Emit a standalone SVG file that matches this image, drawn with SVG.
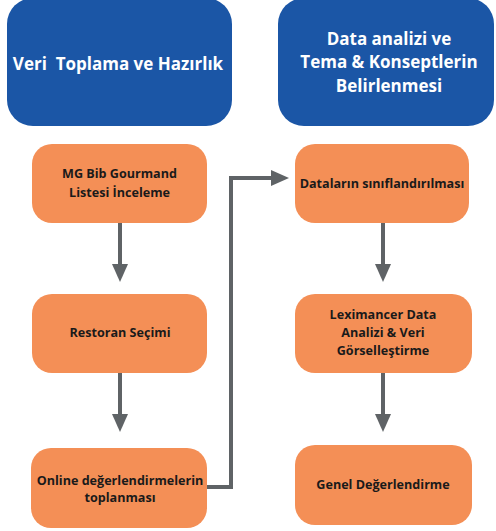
<svg xmlns="http://www.w3.org/2000/svg" width="496" height="531" viewBox="0 0 496 531">
  <style>
    .head { fill: #1b56a6; }
    .step { fill: #f48f56; }
    .htxt { font-family: "Open Sans", "Liberation Sans", sans-serif; font-weight: 700; font-size: 17px; fill: #ffffff; text-anchor: middle; }
    .stxt { font-family: "Open Sans", "Liberation Sans", sans-serif; font-weight: 700; font-size: 12.6px; fill: #1a1a1a; text-anchor: middle; }
    .conn { fill: none; stroke: #5f6366; stroke-width: 4; }
  </style>
  <defs>
    <marker id="arrow" viewBox="0 0 18 16" refX="1" refY="8" markerWidth="18" markerHeight="16" markerUnits="userSpaceOnUse" orient="auto">
      <path d="M0,0 L18,8 L0,16 z" fill="#5f6366"/>
    </marker>
  </defs>
  <rect width="496" height="531" fill="#ffffff"/>

  <g id="phase-collect">
    <rect class="head" x="7" y="-2" width="225" height="128" rx="26"/>
    <text class="htxt" x="118" y="70" xml:space="preserve">Veri  Toplama ve Hazırlık</text>
  </g>
  <g id="phase-analyze">
    <rect class="head" x="278" y="-2" width="216" height="128" rx="26"/>
    <text class="htxt" x="389" y="45">Data analizi ve</text>
    <text class="htxt" x="389" y="68">Tema &amp; Konseptlerin</text>
    <text class="htxt" x="389" y="92">Belirlenmesi</text>
  </g>

  <g id="step-bibgourmand">
    <rect class="step" x="32" y="144" width="175" height="79" rx="20"/>
    <text class="stxt" x="119.5" y="178">MG Bib Gourmand</text>
    <text class="stxt" x="119.5" y="197">Listesi İnceleme</text>
  </g>
  <g id="step-restaurant">
    <rect class="step" x="32" y="294" width="175" height="79" rx="20"/>
    <text class="stxt" x="120" y="337">Restoran Seçimi</text>
  </g>
  <g id="step-reviews">
    <rect class="step" x="31" y="448" width="176" height="80" rx="20"/>
    <text class="stxt" x="120" y="485">Online değerlendirmelerin</text>
    <text class="stxt" x="120" y="502">toplanması</text>
  </g>
  <g id="step-classify">
    <rect class="step" x="295" y="144" width="174" height="79" rx="20"/>
    <text class="stxt" x="382" y="188">Dataların sınıflandırılması</text>
  </g>
  <g id="step-leximancer">
    <rect class="step" x="295" y="294" width="177" height="79" rx="20"/>
    <text class="stxt" x="383" y="319">Leximancer Data</text>
    <text class="stxt" x="383" y="337">Analizi &amp; Veri</text>
    <text class="stxt" x="383" y="355">Görselleştirme</text>
  </g>
  <g id="step-overall">
    <rect class="step" x="295" y="445" width="177" height="80" rx="20"/>
    <text class="stxt" x="383" y="489">Genel Değerlendirme</text>
  </g>

  <g id="connectors">
    <line class="conn" x1="120" y1="223" x2="120" y2="265" marker-end="url(#arrow)"/>
    <line class="conn" x1="120" y1="373" x2="120" y2="415" marker-end="url(#arrow)"/>
    <line class="conn" x1="383" y1="223" x2="383" y2="265" marker-end="url(#arrow)"/>
    <line class="conn" x1="383" y1="373" x2="383" y2="415" marker-end="url(#arrow)"/>
    <polyline class="conn" points="207,487 231,487 231,178 272,178" marker-end="url(#arrow)"/>
  </g>
</svg>
